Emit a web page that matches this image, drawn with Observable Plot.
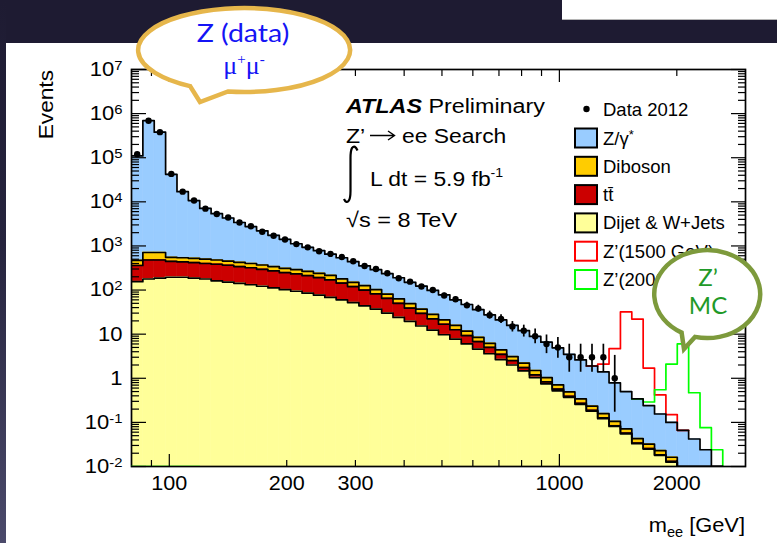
<!DOCTYPE html>
<html>
<head>
<meta charset="utf-8">
<script src="https://cdn.jsdelivr.net/npm/d3@7"></script>
<script src="https://cdn.jsdelivr.net/npm/@observablehq/plot@0.6"></script>
<style>
 html,body{margin:0;padding:0}
 body{width:777px;height:543px;position:relative;overflow:hidden;background:#1e1b32}
 #strip{position:absolute;left:0;top:0;width:6px;height:543px;background:linear-gradient(to bottom,#1e1b32 0%,#26243e 45%,#4b4a6b 100%)}
 #panel{position:absolute;left:6px;top:43px;right:0;bottom:0;background:#fff}
 #topbox{position:absolute;left:562px;top:0;right:0;height:19px;background:#fff;border-bottom:1px solid #b5b5b5}
 #chart,#overlay{position:absolute;left:0;top:0}
</style>
</head>
<body>
<div id="strip"></div><div id="panel"></div><div id="topbox"></div>
<div id="chart"></div>
<svg id="overlay" width="777" height="543"></svg>
<script>
// ---- bin edges (GeV) ----
const binEdges = [80,85.55,91.49,97.84,104.64,111.9,119.67,127.98,136.86,146.36,156.52,167.39,179.01,191.44,204.73,218.94,234.14,250.39,267.77,286.36,306.24,327.5,350.24,374.55,400.55,428.36,458.1,489.9,523.91,560.28,599.17,640.77,685.25,732.82,783.69,838.1,896.28,958.5,1025.04,1096.2,1172.3,1253.68,1340.71,1433.78,1533.31,1639.75,1753.58,1875.31,2005.5,2144.72,2293.61,2452.84,2623.12];

// ---- data (events per bin) ----
const dataCounts = [1.2e5,6.9e5,3.8e5,4.3e4,1.7e4,1.07e4,7000,5300,4400,3400,
 2800,2100,1700,1400,1100,930,760,660,560,450,
 350,300,240,185,155,120,100,75,62,45,
 38,27,22,15,12,9,6,5,3,3,
 3,3,1,null,null,null,null,null,null,null,null,null];
const dataErrLow = [null,null,null,null,null,null,null,null,null,null,
 null,null,null,null,null,null,null,null,null,null,
 null,null,null,null,null,109.5,90.5,66.4,54.2,38.4,
 31.9,21.9,17.4,11.2,8.6,6.06,3.62,2.84,1.37,1.37,
 1.37,1.37,0.17,null,null,null,null,null,null,null,null,null];
const dataErrHigh = [null,null,null,null,null,null,null,null,null,null,
 null,null,null,null,null,null,null,null,null,null,
 null,null,null,null,null,131.5,110.5,84.7,70.9,52.7,
 45.2,33.2,27.7,19.3,16.0,13.11,9.58,8.38,5.92,5.92,
 5.92,5.92,3.30,null,null,null,null,null,null,null,null,null];

// ---- stacked background (top of each layer) ----
const stackZgamma = [1.1e5,6.9e5,3.8e5,4.2e4,1.7e4,1.07e4,7100,5400,4300,3400,
 2750,2200,1740,1410,1120,930,780,650,540,440,
 355,290,235,190,150,123,98,78,60,47,
 36,27.5,21,15.8,12,8.9,6.6,4.9,3.5,2.6,
 1.9,1.4,0.79,0.50,0.34,0.24,0.155,0.10,0.066,0.042,0.024,0.008];
const stackDiboson = [470,710,710,550,540,525,500,480,455,425,
 400,370,340,310,290,265,240,215,180,150,
 126,102,81,63,49,37,28,21,15.8,11.7,
 8.5,6.2,4.4,3.1,2.2,1.5,1.03,0.71,0.49,0.34,
 0.234,0.158,0.105,0.071,0.043,0.032,0.023,0.0162,0.0063,0.004,0.0025,0.0016];
const stackTtbar = [360,480,480,445,435,420,400,385,365,340,
 320,295,272,248,232,212,192,170,144,120,
 100,82,65,50,39,29.5,22.3,16.8,12.6,9.3,
 6.8,5.0,3.5,2.5,1.75,1.2,0.83,0.57,0.39,0.27,
 0.187,0.126,0.084,0.057,0.034,0.0256,0.0184,0.013,0.005,0.0032,0.002,0.0013];
const stackDijet = [155,178,186,195,195,186,178,162,152,142,
 132,122,112,102,94,85,77,68,60,52,
 44,37,30,24,19.5,15.3,12.3,9.7,7.7,6.0,
 4.6,3.6,2.66,2.0,1.47,1.04,0.75,0.52,0.37,0.257,
 0.18,0.121,0.081,0.055,0.033,0.0248,0.0179,0.0126,0.0049,0.0031,0.0019,0.0012];

// ---- Z' signal histograms (signal + background), null = not drawn ----
const zprime1500 = [null,null,null,null,null,null,null,null,null,null,
 null,null,null,null,null,null,null,null,null,null,
 null,null,null,null,null,null,null,null,null,null,
 null,null,null,null,null,null,null,null,null,null,
 1.9,2.1,4.7,32,22,1.7,0.42,0.15,0.066,null,null,null];
const zprime2000 = [0.001,0.001,0.001,0.001,0.001,0.001,null,null,null,null,
 null,null,null,null,null,null,null,null,null,null,
 null,null,null,null,null,null,null,null,null,null,
 null,null,null,null,null,null,null,null,null,null,
 null,null,null,null,0.34,0.29,0.55,2.1,6.0,0.47,0.076,0.024];

// ---- axes ----
const yMajorTicks = [1e-2,1e-1,1,10,1e2,1e3,1e4,1e5,1e6,1e7];
const yTickLabels = ["10^-2","10^-1","1","10","10^2","10^3","10^4","10^5","10^6","10^7"];
const xLabelTicks = [100,200,300,1000,2000];
const xMajorTicks = [100,1000];
const xMinorTicks = [90,200,300,400,500,600,700,800,900,2000];

// ---- legend ----
const legendLabels = ["Z/γ*","Diboson","tt̄","Dijet & W+Jets","Z’(1500 GeV)","Z’(2000 GeV)"];
const legendFills = ["#99ccff","#ffcc00","#cc0000","#ffff99","#ffffff","#ffffff"];
const legendStrokes = ["#000","#000","#000","#000","#ff0000","#00ff00"];

const yMinorTicks = [];
for (let e = -2; e < 7; e++) for (let k = 2; k <= 9; k++) yMinorTicks.push(k * Math.pow(10, e));

const nb = binEdges.length - 1;
const YMIN = 0.01, FLOOR = 1e-5;
const bins = d3.range(nb).map(i => ({
  x1: binEdges[i], x2: binEdges[i+1], xc: Math.sqrt(binEdges[i]*binEdges[i+1]),
  zg: stackZgamma[i], db: stackDiboson[i], tt: stackTtbar[i], dj: stackDijet[i],
  n: dataCounts[i], lo: dataErrLow[i], hi: dataErrHigh[i]
}));

function stepLine(vals) {
  const pts = []; let seg = 0, prevNull = true;
  for (let i = 0; i < nb; i++) {
    const v = vals[i];
    if (v == null) { if (!prevNull) seg++; prevNull = true; continue; }
    prevNull = false;
    const y = Math.max(v, YMIN);
    pts.push({x: binEdges[i], y, seg}, {x: binEdges[i+1], y, seg});
    if (i === nb - 1) pts.push({x: binEdges[i+1], y: YMIN, seg});
  }
  return pts;
}

const marks = [];
const layers = [["zg","db","#99ccff"],["db","tt","#ffcc00"],["tt","dj","#cc0000"],["dj",null,"#ffff99"]];
for (const [top, bot, col] of layers) {
  marks.push(Plot.rect(bins, {x1: "x1", x2: "x2", y1: bot ? bot : () => FLOOR, y2: top, fill: col, stroke: col, strokeWidth: 0.6, clip: true}));
}
const sig15 = stepLine(zprime1500);
const sig20 = stepLine(zprime2000);
marks.push(Plot.line(sig15, {x: "x", y: "y", z: "seg", stroke: "#ff0000", strokeWidth: 1.7, clip: true}));
marks.push(Plot.line(sig20.filter(d => d.seg > 0), {x: "x", y: "y", z: "seg", stroke: "#00ff00", strokeWidth: 1.7, clip: true}));
for (const arr of [stackDijet, stackTtbar, stackDiboson, stackZgamma]) {
  marks.push(Plot.line(stepLine(arr), {x: "x", y: "y", z: "seg", stroke: "black", strokeWidth: 1.7, clip: true}));
}
marks.push(Plot.ruleX(bins.filter(d => d.lo != null), {x: "xc", y1: "lo", y2: "hi", stroke: "black", strokeWidth: 1.7}));
marks.push(Plot.dot(bins.filter(d => d.n != null), {x: "xc", y: "n", r: 3.2, fill: "black"}));
marks.push(Plot.frame({stroke: "black", strokeWidth: 1.7}));
marks.push(Plot.line(sig20.filter(d => d.seg === 0), {x: "x", y: "y", z: "seg", stroke: "#00ff00", strokeWidth: 1.7, clip: true}));

// ticks (inside the frame)
const tk = {label: null, fill: "none", stroke: "black", strokeWidth: 1.2};
marks.push(
  Plot.axisY({...tk, anchor: "left", ticks: yMajorTicks, tickSize: 15, dx: 15}),
  Plot.axisY({...tk, anchor: "left", ticks: yMinorTicks, tickSize: 8, dx: 8}),
  Plot.axisY({...tk, anchor: "right", ticks: yMajorTicks, tickSize: 15, dx: -15}),
  Plot.axisY({...tk, anchor: "right", ticks: yMinorTicks, tickSize: 8, dx: -8}),
  Plot.axisX({...tk, anchor: "bottom", ticks: xMajorTicks, tickSize: 12, dy: -12}),
  Plot.axisX({...tk, anchor: "bottom", ticks: xMinorTicks, tickSize: 6, dy: -6}),
  Plot.axisX({...tk, anchor: "top", ticks: xMajorTicks, tickSize: 12, dy: 12}),
  Plot.axisX({...tk, anchor: "top", ticks: xMinorTicks, tickSize: 6, dy: 6}),
  Plot.axisY({label: null, anchor: "left", ticks: yMajorTicks, tickSize: 0, tickPadding: 9, fontSize: 20,
    tickFormat: d => yTickLabels[yMajorTicks.indexOf(d)]}),
  Plot.axisX({label: null, anchor: "bottom", ticks: xLabelTicks, tickSize: 0, tickPadding: 9, fontSize: 20,
    tickFormat: d => String(d)})
);

const svg = Plot.plot({
  width: 777, height: 543,
  marginLeft: 131, marginRight: 32, marginTop: 69, marginBottom: 77,
  x: {type: "log", domain: [80, 3000]},
  y: {type: "log", domain: [0.01, 1e7]},
  style: {background: "transparent", fontFamily: "'Liberation Sans', Arial, sans-serif", fontSize: "20px", color: "black"},
  marks
});
document.getElementById("chart").appendChild(svg);

// superscripts in y tick labels, slight horizontal stretch of tick labels (as in the slide)
function stretch(el, sx) {
  const tr = el.getAttribute("transform");
  if (tr) { el.setAttribute("transform", tr + ` scale(${sx},1)`); return; }
  const x = +el.getAttribute("x") || 0, y = +el.getAttribute("y") || 0;
  el.removeAttribute("x"); el.removeAttribute("y");
  el.setAttribute("transform", `translate(${x},${y}) scale(${sx},1)`);
}
d3.select(svg).selectAll('g[aria-label="y-axis tick label"] text').each(function() {
  const s = this.textContent;
  if (s.includes("^")) {
    const [base, exp] = s.split("^");
    const t = d3.select(this); t.text(null);
    t.append("tspan").text(base);
    t.append("tspan").attr("dy", "-0.45em").attr("font-size", "13.5px").text(exp);
  }
  stretch(this, 1.1);
});
d3.select(svg).selectAll('g[aria-label="x-axis tick label"] text').each(function() { stretch(this, 1.08); });

// ---- overlay: labels, ATLAS text, legend, speech bubbles ----
const ov = d3.select("#overlay");
const HF = "'Liberation Sans', Arial, Helvetica, sans-serif";
function T(x, y, parts, attrs = {}, sx = 1) {
  const t = ov.append("text").attr("transform", `translate(${x},${y}) scale(${sx},1)`).attr("font-family", HF);
  for (const [k, v] of Object.entries(attrs)) t.attr(k, v);
  for (const p of parts) {
    if (typeof p === "string") t.append("tspan").text(p);
    else { const s = t.append("tspan").text(p.t); for (const [k, v] of Object.entries(p)) if (k !== "t") s.attr(k, v); }
  }
  return t;
}
ov.append("text").attr("transform", "translate(53,70) rotate(-90) scale(1.08,1)").attr("text-anchor", "end")
  .attr("font-family", HF).attr("font-size", 21).text("Events");
T(745, 532, ["m", {t: "ee", dy: 5, "font-size": 14}, {t: " [GeV]", dy: -5}], {"text-anchor": "end", "font-size": 21}, 1.04);

T(346, 113, [{t: "ATLAS", "font-weight": "bold", "font-style": "italic"}, " Preliminary"], {"font-size": 21}, 1.11);
T(346, 143, ["Z’"], {"font-size": 21}, 1.1);
ov.append("path").attr("d", "M370,135.5 L394,135.5 M388,131 L394.5,135.5 L388,140")
  .attr("fill", "none").attr("stroke", "black").attr("stroke-width", 1.4);
T(402, 143, ["ee Search"], {"font-size": 21}, 1.09);
ov.append("path").attr("d", "M357.5,150.5 Q355,144.5 352,148 Q350.5,151 350.5,158 L350.5,191 Q350.5,199 348.5,201 Q346,203.5 344,199")
  .attr("fill", "none").attr("stroke", "black").attr("stroke-width", 2.2);
T(370, 186, ["L dt = 5.9 fb", {t: "-1", dy: -9, "font-size": 13}], {"font-size": 21}, 1.09);
T(346, 227, ["√s = 8 TeV"], {"font-size": 21}, 1.12);

// legend
ov.append("circle").attr("cx", 586.5).attr("cy", 109).attr("r", 3.2).attr("fill", "black");
T(603, 115.5, ["Data 2012"], {"font-size": 18.5});
legendLabels.forEach((lab, i) => {
  const cy = 138 + i * 28.3;
  ov.append("rect").attr("x", 575).attr("y", cy - 9.5).attr("width", 22).attr("height", 19)
    .attr("fill", legendFills[i]).attr("stroke", legendStrokes[i]).attr("stroke-width", 2);
  const parts = lab === "Z/γ*" ? ["Z/γ", {t: "*", dy: -6, "font-size": 13}] : [lab];
  T(603, cy + 6.5, parts, {"font-size": 18.5});
});

// speech bubbles
ov.append("path").attr("d", "M228,91.5 A106,42 0 1 0 190,86.1 L200,102 Z")
  .attr("fill", "white").attr("stroke", "#e6b64b").attr("stroke-width", 4.5).attr("stroke-linejoin", "miter");
T(243, 42, ["Z (data)"], {"text-anchor": "middle", "font-size": 25, fill: "#1414f5", "font-family": "Lato, 'Open Sans', sans-serif"}, 1.14);
T(244, 74, ["μ", {t: "+", dy: -10, "font-size": 15}, {t: "μ", dy: 10}, {t: "-", dy: -10, "font-size": 15}],
  {"text-anchor": "middle", "font-size": 26, fill: "#1414f5", "font-family": "'Liberation Serif', 'DejaVu Serif', serif"});

ov.append("path").attr("d", "M695,336.9 A53,44 0 1 0 681.6,332.6 L684,349 Z")
  .attr("fill", "white").attr("stroke", "#7d9a3c").attr("stroke-width", 4.5);
T(708, 286, ["Z’"], {"text-anchor": "middle", "font-size": 24, fill: "#1f9a28", "font-family": "Lato, 'Open Sans', sans-serif"});
T(708, 314, ["MC"], {"text-anchor": "middle", "font-size": 24, fill: "#1f9a28", "font-family": "Lato, 'Open Sans', sans-serif"});
</script>
</body>
</html>
